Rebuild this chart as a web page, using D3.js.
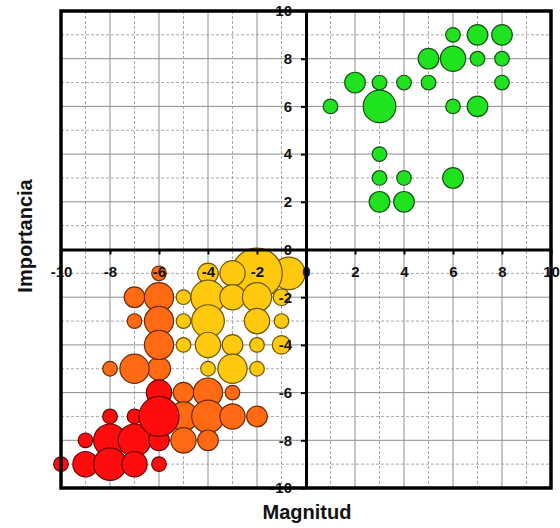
<!DOCTYPE html>
<html>
<head>
<meta charset="utf-8">
<script src="https://cdn.jsdelivr.net/npm/d3@7"></script>
<style>
  html, body { margin: 0; padding: 0; background: #fff; }
  svg { display: block; }
  text { font-family: Arial, "Liberation Sans", sans-serif; font-weight: bold; }
</style>
</head>
<body>
<svg id="chart" width="560" height="528"></svg>
<script>
// ---- data: [magnitud, importancia, size] ----
const greenPoints = [
  [1,6,1],[2,7,2],[3,7,1],[3,6,5],[4,7,1],[5,7,1],[5,8,2],[6,8,3],[6,9,1],
  [7,9,2],[8,9,2],[7,8,1],[8,8,1],[8,7,1],[6,6,1],[7,6,2],[3,4,1],[3,3,1],
  [4,3,1],[6,3,2],[3,2,2],[4,2,2]
];
const yellowPoints = [
  [-0.7,-1,5],[-2,-1,12],[-3,-1,3],[-4,-1,2],
  [-4,-2,5.5],[-3,-2,3],[-2,-2,4],[-1,-2,1.3],[-5,-2,1],
  [-5,-3,1],[-4,-3,5],[-2,-3,3],[-1,-3,1],
  [-5,-4,1],[-4,-4,3],[-3,-4,2],[-2,-4,1],[-1,-4,1.6],
  [-4,-5,1],[-3,-5,4],[-2,-5,1]
];
const orangePoints = [
  [-6,-1,1],[-7,-2,2],[-6,-2,4],[-7,-3,1],[-6,-3,4],[-6,-5,2.5],[-6,-4,4],
  [-8,-5,1],[-7,-5,4],
  [-5,-6,2],[-4,-6,4],[-3,-6,1],
  [-5,-7,4],[-4,-7,5],[-3,-7,3],[-2,-7,2],
  [-5,-8,3],[-4,-8,2]
];
const redPoints = [
  [-6,-6,3],[-7,-7,1],[-8,-7,1],
  [-9,-8,1],[-8,-8,5],[-7,-8,5],[-6,-8,2],
  [-10,-9,1],[-9,-9,3],[-8,-9,5],[-7,-9,3],[-6,-9,1],
  [-6,-7,7.5]
];
const seriesNames = ["yellow","orange","red","green"];
const seriesData = [yellowPoints, orangePoints, redPoints, greenPoints];
const seriesFill = ["#ffc90e","#ff6a13","#ff0d0d","#1ee31e"];
const seriesStroke = ["#6e5500","#6a2b05","#650606","#1a501a"];
const tickValues = [-10,-8,-6,-4,-2,0,2,4,6,8,10];
const gridValues = [-9,-8,-7,-6,-5,-4,-3,-2,-1,1,2,3,4,5,6,7,8,9];
const xTitle = "Magnitud";
const yTitle = "Importancia";

// ---- layout ----
const svg = d3.select("#chart");
const x = d3.scaleLinear().domain([-10,10]).range([61,551]);
const y = d3.scaleLinear().domain([-10,10]).range([488,11]);
const r = d3.scaleSqrt().domain([0,12]).range([0, 7.3*Math.sqrt(12)]);

// grid
const grid = svg.append("g");
grid.selectAll("line.gx").data(gridValues).join("line")
  .attr("x1", d => x(d)).attr("x2", d => x(d))
  .attr("y1", y(10)).attr("y2", y(-10))
  .attr("stroke", d => d % 2 === 0 ? "#8e8e8e" : "#a8a8a8")
  .attr("stroke-width", 1)
  .attr("stroke-dasharray", d => d % 2 === 0 ? null : "3,2");
grid.selectAll("line.gy").data(gridValues).join("line")
  .attr("y1", d => y(d)).attr("y2", d => y(d))
  .attr("x1", x(-10)).attr("x2", x(10))
  .attr("stroke", d => d % 2 === 0 ? "#8e8e8e" : "#a8a8a8")
  .attr("stroke-width", 1)
  .attr("stroke-dasharray", d => d % 2 === 0 ? null : "3,2");

// bubbles
seriesData.forEach((pts, i) => {
  svg.append("g").attr("class", seriesNames[i])
    .selectAll("circle").data(pts).join("circle")
    .attr("cx", d => x(d[0]))
    .attr("cy", d => y(d[1]))
    .attr("r", d => r(d[2]))
    .attr("fill", seriesFill[i])
    .attr("stroke", seriesStroke[i])
    .attr("stroke-width", 1.2);
});

// axes through origin
const fmt = d => String(d);
const xAxis = d3.axisBottom(x).tickValues(tickValues).tickSize(5).tickSizeOuter(0).tickPadding(12)
  .tickFormat(fmt);
const yAxis = d3.axisLeft(y).tickValues(tickValues).tickSize(5).tickSizeOuter(0).tickPadding(9)
  .tickFormat(fmt);

const gx = svg.append("g").attr("transform", `translate(0,${y(0)})`).call(xAxis);
const gy = svg.append("g").attr("transform", `translate(${x(0)},0)`).call(yAxis);
[gx, gy].forEach(g => {
  g.select(".domain").attr("stroke", "#000").attr("stroke-width", 3);
  g.selectAll(".tick line").attr("stroke", "#000").attr("stroke-width", 2);
  g.selectAll(".tick text").attr("fill", "#111").style("font-size", "15px")
    .style("font-family", "Arial, 'Liberation Sans', sans-serif").style("font-weight", "bold");
});

// border
svg.append("rect")
  .attr("x", x(-10)).attr("y", y(10))
  .attr("width", x(10) - x(-10)).attr("height", y(-10) - y(10))
  .attr("fill", "none").attr("stroke", "#000").attr("stroke-width", 3.5);

// titles
svg.append("text").text(xTitle)
  .attr("x", 307).attr("y", 519)
  .attr("text-anchor", "middle").style("font-size", "20px").attr("fill", "#111");
svg.append("text").text(yTitle)
  .attr("transform", "translate(32,236) rotate(-90)")
  .attr("text-anchor", "middle").style("font-size", "20px").attr("fill", "#111");
</script>
</body>
</html>
